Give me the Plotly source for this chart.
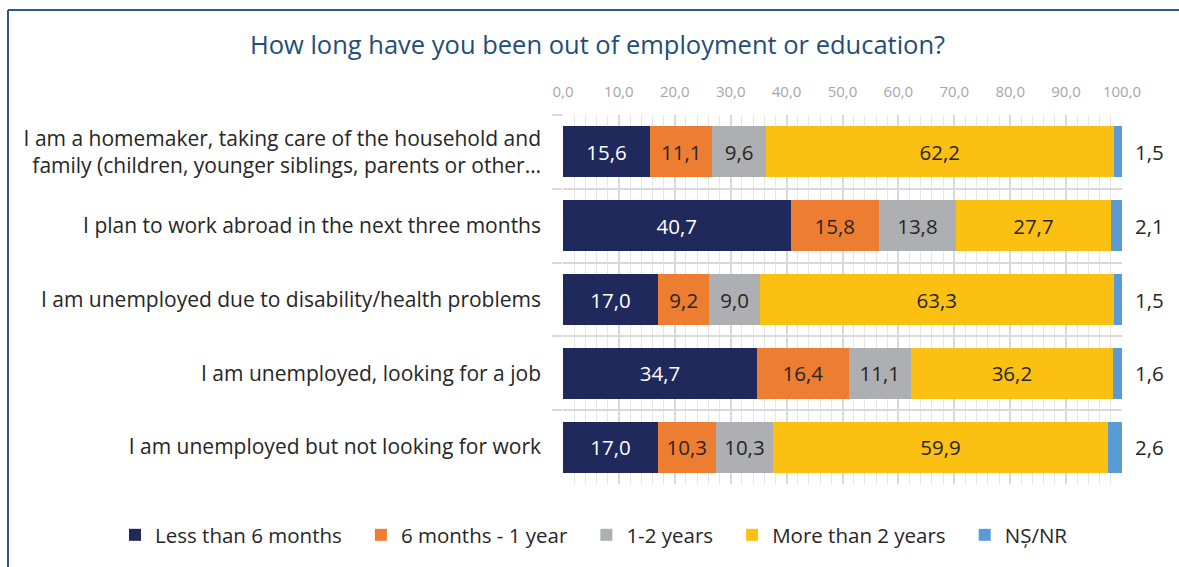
import plotly.graph_objects as go

# Survey rows, top to bottom
categories = [
    "I am a homemaker, taking care of the household and<br>family (children, younger siblings, parents or other…",
    "I plan to work abroad in the next three months",
    "I am unemployed due to disability/health problems",
    "I am unemployed, looking for a job",
    "I am unemployed but not looking for work",
]

series_names = ["Less than 6 months", "6 months - 1 year", "1-2 years", "More than 2 years", "NȘ/NR"]
less_6m = [15.6, 40.7, 17.0, 34.7, 17.0]
m6_1y = [11.1, 15.8, 9.2, 16.4, 10.3]
y1_2 = [9.6, 13.8, 9.0, 11.1, 10.3]
more_2y = [62.2, 27.7, 63.3, 36.2, 59.9]
ns_nr = [1.5, 2.1, 1.5, 1.6, 2.6]

tick_values = [0, 10, 20, 30, 40, 50, 60, 70, 80, 90, 100]

series_values = [less_6m, m6_1y, y1_2, more_2y, ns_nr]
colors = ["#1F295C", "#ED7D31", "#AEAFB2", "#FBC012", "#5B9BD5"]
text_colors = ["#FFFFFF", "#262626", "#262626", "#262626", "#262626"]

FONT = "Open Sans"
W, H = 1179, 567
L, R, T, B = 563, 57, 115, 83
plot_w = W - L - R
plot_h = H - T - B

# trailing spaces widen the gap between legend entries
LEGEND_PAD = "\u00a0\u00a0\u2009"

fig = go.Figure()
for name, vals, col, tcol in zip(series_names, series_values, colors, text_colors):
    is_last = name == series_names[-1]
    fig.add_trace(go.Bar(
        y=categories,
        x=vals,
        name=name if is_last else name + LEGEND_PAD,
        orientation="h",
        marker=dict(color=col, line=dict(width=0)),
        text=None if is_last else [f"{v:.1f}".replace(".", ",") for v in vals],
        textposition="inside",
        insidetextanchor="middle",
        constraintext="none",
        textfont=dict(family=FONT, size=20.5, color=tcol),
        hoverinfo="skip",
    ))

# Values of the last segment are written just past the end of each bar
totals = [sum(v[i] for v in series_values) for i in range(len(categories))]
for cat, tot, v in zip(categories, totals, ns_nr):
    fig.add_annotation(
        x=min(tot, 100), y=cat, xref="x", yref="y",
        text=f"{v:.1f}".replace(".", ","),
        showarrow=False, xanchor="left", xshift=11,
        font=dict(family=FONT, size=20.5, color="#262626"),
    )

# Frame around the chart (left and top edges visible)
def px_x(p):
    return (p - L) / plot_w

def px_y(p):
    return (H - B - p) / plot_h

frame = dict(color="#2B5A88", width=2)
fig.add_shape(type="line", xref="paper", yref="paper",
              x0=px_x(8), x1=px_x(W + 10), y0=px_y(10), y1=px_y(10), line=frame)
fig.add_shape(type="line", xref="paper", yref="paper",
              x0=px_x(8), x1=px_x(8), y0=px_y(10), y1=px_y(H + 10), line=frame)

fig.update_layout(
    width=W, height=H,
    margin=dict(l=L, r=R, t=T, b=B, autoexpand=False),
    paper_bgcolor="white", plot_bgcolor="white",
    barmode="stack", bargap=0.31,
    separators=",.",
    font=dict(family=FONT, color="#262626"),
    title=dict(
        text="How long have you been out of employment or education?",
        x=597.5 / W, xanchor="center", y=1 - 45 / H, yanchor="middle",
        font=dict(family=FONT, size=25.5, color="#1F4E79"),
    ),
    xaxis=dict(
        side="top", range=[0, 100], tickvals=tick_values, tickformat=".1f",
        showgrid=True, gridcolor="#D9D9D9", gridwidth=1.5,
        minor=dict(dtick=2, showgrid=True, gridcolor="#E6E6E6", gridwidth=1),
        zeroline=False, showline=False, ticks="",
        tickfont=dict(family=FONT, size=15, color="#A6A6A6"),
        ticklabelstandoff=14, fixedrange=True,
    ),
    yaxis=dict(
        type="category", categoryorder="array", categoryarray=categories,
        autorange="reversed", tickson="boundaries",
        showgrid=True, gridcolor="#D9D9D9", gridwidth=2,
        ticks="outside", ticklen=10, tickcolor="#D9D9D9", tickwidth=2,
        showline=False, zeroline=False,
        tickfont=dict(family=FONT, size=21, color="#262626"),
        ticklabelstandoff=21, fixedrange=True,
    ),
    legend=dict(
        orientation="h", xref="paper", x=px_x(115), xanchor="left",
        yref="paper", y=px_y(535), yanchor="middle",
        font=dict(family=FONT, size=20.5, color="#262626"),
        traceorder="normal", itemwidth=30,
    ),
    showlegend=True,
)

fig.write_html("out.html")
